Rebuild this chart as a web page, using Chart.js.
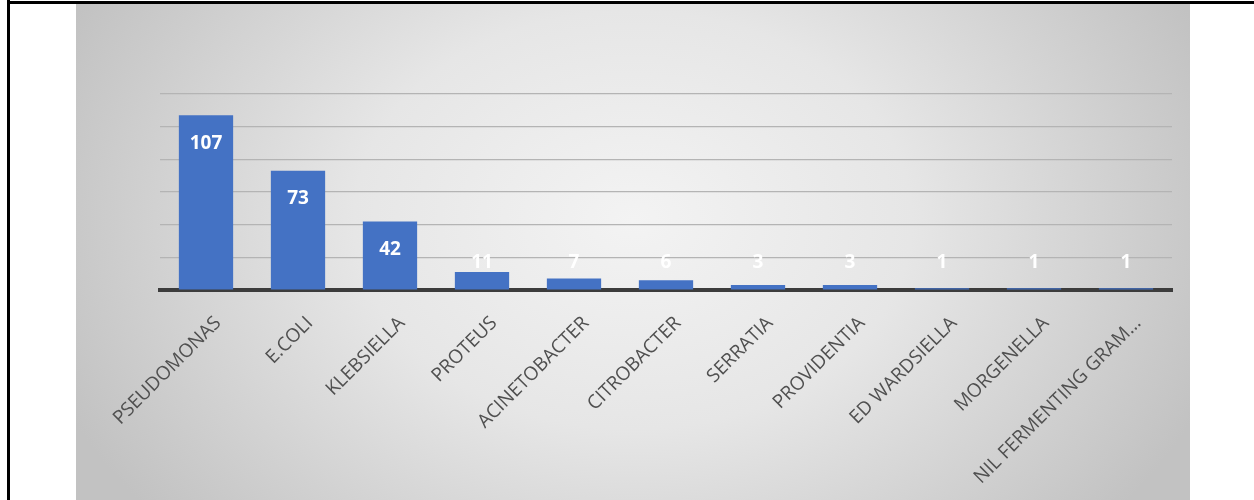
<!DOCTYPE html>
<html>
<head>
<meta charset="utf-8">
<script src="https://cdn.jsdelivr.net/npm/chart.js@4.4.1/dist/chart.umd.min.js"></script>
<style>
body { margin: 0; background: #fff; }
</style>
</head>
<body>
<canvas id="myChart" width="1254" height="500"></canvas>
<script>
var categories = ["PSEUDOMONAS", "E.COLI", "KLEBSIELLA", "PROTEUS", "ACINETOBACTER", "CITROBACTER",
  "SERRATIA", "PROVIDENTIA", "ED WARDSIELLA", "MORGENELLA", "NIL FERMENTING GRAM..."];
var counts = [107, 73, 42, 11, 7, 6, 3, 3, 1, 1, 1];
var yTicks = [0, 20, 40, 60, 80, 100, 120];

// grey panel + black frame lines behind the chart
var backdrop = {
  id: 'backdrop',
  beforeDraw: function(chart) {
    var c = chart.ctx;
    c.save();
    c.translate(633, 220);
    c.scale(1, 0.75);
    var g = c.createRadialGradient(0, 0, 0, 0, 0, 620);
    g.addColorStop(0, '#f3f3f3');
    g.addColorStop(0.45, '#e6e6e6');
    g.addColorStop(1, '#c2c2c2');
    c.fillStyle = g;
    c.fillRect(76 - 633, (3 - 220) / 0.75, 1190 - 76, 500 / 0.75);
    c.restore();

    c.save();
    c.fillStyle = '#000';
    c.fillRect(7, 0, 3, 500);
    c.fillRect(7, 1, 1247, 3);
    c.restore();
  }
};

// white value labels near the top of each bar
var valueLabels = {
  id: 'valueLabels',
  afterDatasetsDraw: function(chart) {
    var c = chart.ctx;
    var meta = chart.getDatasetMeta(0);
    var base = chart.scales.y.getPixelForValue(0);
    c.save();
    c.fillStyle = '#ffffff';
    c.font = 'bold 19px "Open Sans"';
    c.textAlign = 'center';
    c.textBaseline = 'middle';
    meta.data.forEach(function(bar, i) {
      var y = Math.min(bar.y + 28, base - 27);
      c.fillText(String(counts[i]), bar.x, y);
    });
    c.restore();
  }
};

var ctx = document.getElementById('myChart').getContext('2d');
var myChart = new Chart(ctx, {
  type: 'bar',
  data: {
    labels: categories,
    datasets: [{
      data: counts,
      backgroundColor: '#4472C4',
      borderWidth: 0,
      barPercentage: 0.59,
      categoryPercentage: 1
    }]
  },
  options: {
    responsive: false,
    animation: false,
    layout: { padding: { left: 160, right: 82, top: 94, bottom: 0 } },
    plugins: { legend: { display: false }, tooltip: { enabled: false } },
    scales: {
      x: {
        offset: true,
        grid: { display: false },
        border: { color: '#3c3c3c', width: 4 },
        ticks: {
          color: '#505050',
          font: { family: 'Open Sans', size: 19 },
          minRotation: 45,
          maxRotation: 45,
          autoSkip: false,
          padding: 14,
          labelOffset: 12
        },
        afterFit: function(s) { s.height = 210; }
      },
      y: {
        min: 0,
        max: 120,
        afterBuildTicks: function(s) { s.ticks = yTicks.map(function(v) { return { value: v }; }); },
        ticks: { display: false },
        grid: { color: '#b4b4b4', lineWidth: 1.2, drawTicks: false },
        border: { display: false },
        afterFit: function(s) { s.width = 0; }
      }
    }
  },
  plugins: [backdrop, valueLabels]
});
</script>
</body>
</html>
